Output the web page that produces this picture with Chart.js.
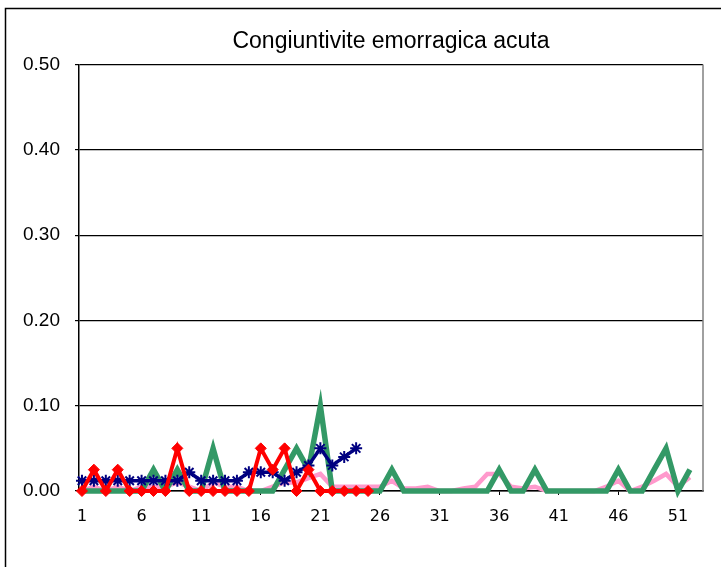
<!DOCTYPE html>
<html>
<head>
<meta charset="utf-8">
<script src="https://cdn.jsdelivr.net/npm/chart.js@4.4.1/dist/chart.umd.min.js"></script>
<style>
  html, body { margin: 0; padding: 0; background: #fff; }
</style>
</head>
<body>
<canvas id="chart" width="721" height="567"></canvas>
<script>
const weeks = Array.from({ length: 52 }, (_, i) => i + 1);
const xTickLabels = [1, 6, 11, 16, 21, 26, 31, 36, 41, 46, 51];
const yTicks = [0, 0.1, 0.2, 0.3, 0.4, 0.5];

// weekly rates
const pinkValues = [
  0, 0.005, 0, 0.005, 0, 0.005, 0.005, 0.005, 0.01, 0.005,
  0, 0.01, 0.005, 0.005, 0, 0, 0.005, 0.01, 0.01, 0.015,
  0.02, 0.005, 0.005, 0.005, 0.005, 0.005, 0.012, 0.003, 0.003, 0.005,
  0, 0, 0.003, 0.005, 0.02, 0.02, 0.005, 0.003, 0.005, 0,
  0, 0, 0, 0, 0.005, 0.012, 0, 0.005, 0.012, 0.02,
  0.005, 0.016
];
const greenValues = [
  0, 0, 0, 0, 0, 0, 0.025, 0, 0.025, 0,
  0, 0.05, 0, 0, 0, 0, 0, 0.025, 0.05, 0.025,
  0.1, 0, 0, 0, 0, 0, 0.025, 0, 0, 0,
  0, 0, 0, 0, 0, 0.025, 0, 0, 0.025, 0,
  0, 0, 0, 0, 0, 0.025, 0, 0, 0.025, 0.05,
  0, 0.025
];
const navyValues = [
  0.012, 0.012, 0.012, 0.012, 0.012, 0.012, 0.012, 0.012, 0.012, 0.022,
  0.012, 0.012, 0.012, 0.012, 0.022, 0.022, 0.022, 0.012, 0.022, 0.03,
  0.05, 0.03, 0.04, 0.05
];
const redValues = [
  0, 0.025, 0, 0.025, 0, 0, 0, 0, 0.05, 0,
  0, 0, 0, 0, 0, 0.05, 0.025, 0.05, 0, 0.025,
  0, 0, 0, 0, 0
];

const toPoints = vals => vals.map((v, i) => ({ x: weeks[i], y: v }));

const framePlugin = {
  id: 'frame',
  beforeDraw(chart) {
    const c = chart.ctx;
    c.save();
    c.fillStyle = '#fff';
    c.fillRect(0, 0, chart.width, chart.height);
    c.strokeStyle = '#000';
    c.lineWidth = 1.5;
    c.beginPath();
    c.moveTo(5.5, chart.height);
    c.lineTo(5.5, 8.5);
    c.lineTo(chart.width, 8.5);
    c.stroke();
    c.restore();
  },
  beforeDatasetsDraw(chart) {
    const a = chart.chartArea;
    const c = chart.ctx;
    c.save();
    c.strokeStyle = '#808080';
    c.lineWidth = 1.5;
    c.beginPath();
    c.moveTo(a.right, a.top);
    c.lineTo(a.right, a.bottom);
    c.stroke();
    c.restore();
  }
};

new Chart(document.getElementById('chart'), {
  type: 'line',
  data: {
    datasets: [
      {
        data: toPoints(redValues),
        borderColor: '#ff0000',
        backgroundColor: '#ff0000',
        borderWidth: 4,
        pointStyle: 'rectRot',
        pointRadius: 5.5,
        pointBorderWidth: 1,
        order: 1,
        clip: false
      },
      {
        data: toPoints(navyValues),
        borderColor: '#000080',
        backgroundColor: '#000080',
        borderWidth: 3.5,
        pointStyle: 'star',
        pointRadius: 6,
        pointBorderWidth: 2,
        order: 2,
        clip: false
      },
      {
        data: toPoints(greenValues),
        borderColor: '#339966',
        borderWidth: 5.5,
        pointRadius: 0,
        order: 3,
        clip: false
      },
      {
        data: toPoints(pinkValues),
        borderColor: '#ff99cc',
        borderWidth: 4.5,
        pointRadius: 0,
        order: 4,
        clip: false
      }
    ]
  },
  options: {
    responsive: false,
    animation: false,
    layout: { padding: { left: 0, right: 18, top: 0, bottom: 0 } },
    plugins: {
      legend: { display: false },
      tooltip: { enabled: false },
      title: {
        display: true,
        fullSize: false,
        text: 'Congiuntivite emorragica acuta',
        color: '#000',
        font: { family: 'Liberation Sans', size: 23, weight: 'normal' },
        padding: { top: 28, bottom: 9 }
      }
    },
    scales: {
      x: {
        type: 'linear',
        min: 0.75,
        max: 53.1,
        afterBuildTicks: scale => { scale.ticks = xTickLabels.map(v => ({ value: v })); },
        afterFit: scale => { scale.height = 76; },
        grid: { drawOnChartArea: false, drawTicks: true, tickLength: 4, color: '#000' },
        border: { display: true, color: '#000', width: 1.5 },
        ticks: {
          color: '#000',
          padding: 12,
          maxRotation: 0,
          autoSkip: false,
          font: { family: 'DejaVu Sans', size: 16 },
          callback: v => String(v)
        }
      },
      y: {
        min: 0,
        max: 0.5,
        afterBuildTicks: scale => { scale.ticks = yTicks.map(v => ({ value: v })); },
        afterFit: scale => { scale.width = 79; },
        grid: { color: '#000', lineWidth: 1.2, drawTicks: true, tickLength: 4 },
        border: { display: true, color: '#000', width: 1.5 },
        ticks: {
          color: '#000',
          padding: 15,
          font: { family: 'Liberation Sans', size: 19 },
          callback: v => v.toFixed(2)
        }
      }
    }
  },
  plugins: [framePlugin]
});
</script>
</body>
</html>
